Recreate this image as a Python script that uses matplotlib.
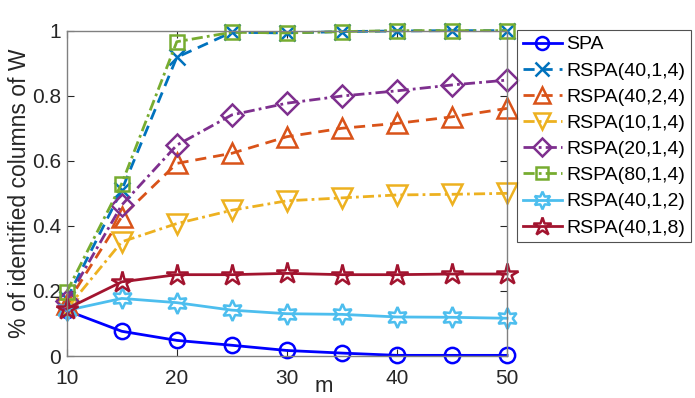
import matplotlib
matplotlib.use("Agg")
import matplotlib.pyplot as plt

plt.rcParams['font.family'] = ['Liberation Sans', 'DejaVu Sans']

m = [10, 15, 20, 25, 30, 35, 40, 45, 50]
labels = ["SPA", "RSPA(40,1,4)", "RSPA(40,2,4)", "RSPA(10,1,4)", "RSPA(20,1,4)",
          "RSPA(80,1,4)", "RSPA(40,1,2)", "RSPA(40,1,8)"]
spa      = [0.140, 0.076, 0.048, 0.033, 0.017, 0.009, 0.002, 0.002, 0.002]
r40_1_4  = [0.175, 0.510, 0.918, 0.995, 0.993, 0.997, 0.999, 1.000, 1.000]
r40_2_4  = [0.160, 0.428, 0.592, 0.623, 0.674, 0.700, 0.715, 0.735, 0.761]
r10_1_4  = [0.145, 0.351, 0.407, 0.448, 0.477, 0.486, 0.495, 0.497, 0.500]
r20_1_4  = [0.170, 0.464, 0.648, 0.741, 0.777, 0.799, 0.815, 0.833, 0.848]
r80_1_4  = [0.197, 0.530, 0.966, 0.995, 0.993, 0.997, 1.000, 1.000, 1.000]
r40_1_2  = [0.140, 0.177, 0.164, 0.141, 0.130, 0.128, 0.120, 0.119, 0.116]
r40_1_8  = [0.145, 0.228, 0.250, 0.250, 0.254, 0.250, 0.250, 0.252, 0.252]
series = [spa, r40_1_4, r40_2_4, r10_1_4, r20_1_4, r80_1_4, r40_1_2, r40_1_8]

colors = [(0, 0, 1), (0, 0.447, 0.741), (0.85, 0.325, 0.098), (0.929, 0.694, 0.125),
          (0.494, 0.184, 0.556), (0.466, 0.674, 0.188), (0.301, 0.745, 0.933),
          (0.635, 0.078, 0.184)]
styles = ['-', (0, (4, 2.5)), (0, (4, 2.5)), (0, (4, 1.5, 1, 1.5)), (0, (4, 1.5, 1, 1.5)),
          (0, (4, 1.5, 1, 1.5)), '-', '-']
markers = ['o', 'x', '^', 'v', 'D', 's', (6, 1, 0), '*']
msizes = [11, 12, 14, 14, 11, 10, 15, 16]

fig = plt.figure(figsize=(6.95, 3.98), dpi=100)
ax = fig.add_axes([0.096, 0.1055, 0.6335, 0.8175])
for y, lab, c, ls, mk, ms in zip(series, labels, colors, styles, markers, msizes):
    ax.plot(m, y, linestyle=ls, color=c, marker=mk, markersize=ms, markerfacecolor='none',
            markeredgecolor=c, markeredgewidth=1.8, linewidth=2, label=lab, clip_on=False)

ax.set_xlim(10, 50)
ax.set_ylim(0, 1)
ax.set_xticks([10, 20, 30, 40, 50])
ax.set_yticks([0, 0.2, 0.4, 0.6, 0.8, 1])
ax.set_yticklabels(['0', '0.2', '0.4', '0.6', '0.8', '1'])
gray = (0.15, 0.15, 0.15)
ax.tick_params(direction='in', length=5, width=0.8, colors=gray, labelsize=15,
               top=True, right=True, labelcolor=gray)
ax.tick_params(axis='x', pad=9)
ax.tick_params(axis='y', pad=4)
for s in ax.spines.values():
    s.set_color((0.5, 0.5, 0.5))
    s.set_linewidth(1)
ax.text(0.584, -0.112, 'm', transform=ax.transAxes, fontsize=16, color=gray,
        ha='center', va='baseline')
ax.set_ylabel('% of identified columns of W', fontsize=16.5, color=gray, labelpad=1)

leg = ax.legend(loc='upper left', bbox_to_anchor=(1.0227, 1.002), fontsize=14,
                frameon=True, fancybox=False, edgecolor=(0.15, 0.15, 0.15),
                handlelength=2.0, handletextpad=0.25, borderpad=0.3, labelspacing=0.44,
                borderaxespad=0.0, markerscale=0.85)
leg.get_frame().set_linewidth(0.8)
for t in leg.get_texts():
    t.set_color('black')

fig.savefig('out.png', dpi=100)
